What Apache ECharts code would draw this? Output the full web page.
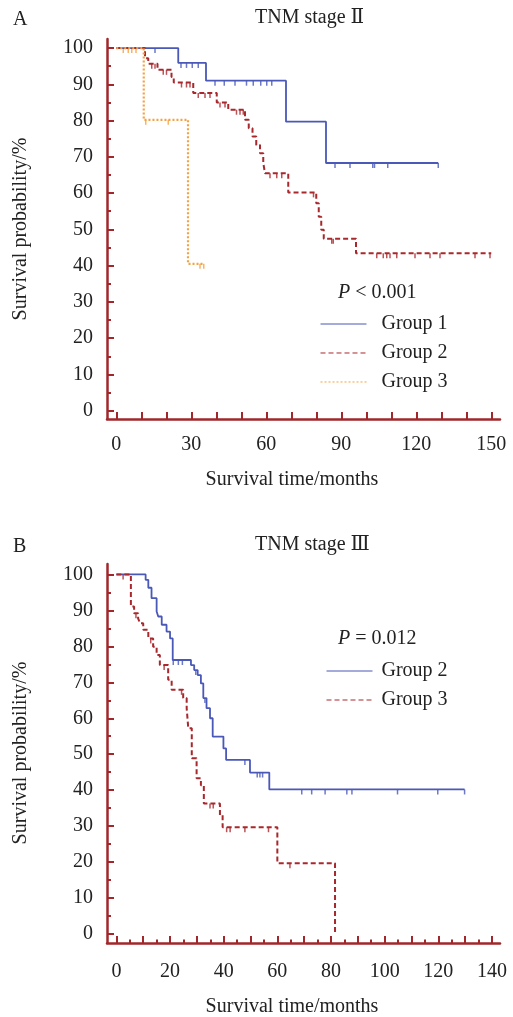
<!DOCTYPE html>
<html><head><meta charset="utf-8">
<script src="https://cdn.jsdelivr.net/npm/echarts@6/dist/echarts.min.js"></script>
<style>html,body{margin:0;padding:0;background:#fff}#c{width:513px;height:1017px}</style>
</head><body><div id="c"></div>
<script>
// ---------- Data ----------
// Panel A: TNM stage II  (time in months, survival in %)
const aGroup1Steps = [[0,100],[24.8,95.9],[35.9,91.0],[67.9,79.7],[83.9,68.3],[128.8,68.3]];
const aGroup1Censor = [15.5,25.9,28.1,30.4,32.8,39.5,43.2,47.5,52.1,54.8,57.8,60.2,62.2,87.5,93.5,102.6,103.3,108.6,128.8];
const aGroup2Steps = [[0,100],[11.5,97.2],[12.8,95.7],[16.5,94.0],[22.1,92.0],[23.0,90.5],[30.8,87.6],[40.2,85.0],[44.8,83.0],[51.5,80.2],[53.0,77.9],[54.5,75.6],[56.0,73.3],[57.5,71.0],[58.8,68.3],[59.5,65.5],[68.8,60.2],[80.0,57.2],[81.0,53.5],[82.0,49.9],[83.0,47.4],[95.9,43.4],[150,43.4]];
const aGroup2Censor = [14.2,15.5,18.8,20.1,26.1,28.1,29.5,32.8,35.5,37.5,41.5,43.5,48.1,49.5,50.8,61.5,64.2,66.2,78.9,86.2,86.8,104.2,106.8,108.2,109.5,112.2,119.5,125.5,129.5,143.5,149.5];
const aGroup3Steps = [[0,100],[11.0,80.2],[28.7,40.5],[35.0,40.5]];
const aGroup3Censor = [2.8,4.8,6.2,7.9,11.8,20.8,33.5,35.0];

// Panel B: TNM stage III
const bGroup2Steps = [[0,100],[10.9,98.5],[11.9,96.3],[13.1,93.4],[15.0,89.7],[15.6,88.3],[16.9,86.0],[18.7,84.1],[20.0,82.2],[21.0,76.2],[27.8,74.8],[29.0,73.4],[30.3,72.0],[31.5,69.7],[32.4,65.6],[33.6,62.8],[34.9,60.0],[35.9,54.9],[39.9,51.6],[40.9,48.4],[49.8,44.9],[57.0,40.2],[129.8,40.2]];
const bGroup2Censor = [21.2,23.1,24.6,29.6,33.0,47.9,52.5,53.5,54.5,69.1,72.8,77.8,85.9,87.8,104.8,119.8,129.8];
const bGroup3Steps = [[0,100],[5.4,91.1],[6.6,89.2],[8.1,87.8],[8.8,86.4],[10.0,84.6],[11.9,82.2],[13.7,79.9],[15.0,77.6],[16.2,74.8],[19.3,70.7],[20.6,67.9],[24.9,65.6],[26.2,62.8],[26.8,57.2],[28.1,48.9],[29.9,43.3],[31.5,41.4],[32.6,36.3],[38.6,33.1],[39.6,29.7],[60.0,19.7],[81.5,0]];
const bGroup3Censor = [2.5,7.3,12.8,17.8,24.3,34.9,36.1,41.1,42.4,47.9,56.7,64.7];

// Tick values / labels
const yMajorTicks = [0,10,20,30,40,50,60,70,80,90,100];
const yMinorTicks = [5,15,25,35,45,55,65,75,85,95];
const aXTicks = [0,10,20,30,40,50,60,70,80,90,100,110,120,130,140,150];
const aXLabels = [0,30,60,90,120,150];
const bXTicks = [0,10,20,30,40,50,60,70,80,90,100,110,120,130,140];
const bXMinorTicks = [5,15,25,35,45,55,65,75,85,95,105,115,125,135];
const bXLabels = [0,20,40,60,80,100,120,140];

const titleA = 'TNM stage Ⅱ', titleB = 'TNM stage Ⅲ';
const pA = ['P', ' < 0.001'], pB = ['P', ' = 0.012'];
const xName = 'Survival time/months', yName = 'Survival probability/%';

// ---------- Styling ----------
const FONT = "'Liberation Serif','DejaVu Serif','Noto Sans CJK SC',serif";
const AX = '#a0282c';
const BLUE = '#4a58b8', RED = '#a8282d', ORANGE = '#f4a140';
const TXT = '#222';

function stepAt(steps, t) {
  let v = steps[0][1];
  for (const [x, y] of steps) { if (x <= t) v = y; else break; }
  return v;
}
function censorData(steps, times) { return times.map(t => [t, stepAt(steps, t)]); }

function mainX(grid, min, max, ticks, labels, margin) {
  return {
    type: 'value', gridIndex: grid, min, max, position: 'bottom',
    axisLine: { show: true, onZero: false, lineStyle: { color: AX, width: 2.5 } },
    axisTick: { show: true, inside: true, length: 7, customValues: ticks, lineStyle: { color: AX, width: 2 } },
    axisLabel: { show: true, customValues: labels, margin, fontFamily: FONT, fontSize: 20, color: TXT },
    splitLine: { show: false }
  };
}
function minorX(grid, min, max, ticks) {
  return {
    type: 'value', gridIndex: grid, min, max, position: 'bottom', offset: 0,
    axisLine: { show: false, onZero: false },
    axisTick: { show: true, inside: true, length: 3.5, customValues: ticks, lineStyle: { color: AX, width: 2 } },
    axisLabel: { show: false }, splitLine: { show: false }
  };
}
function mainY(grid, min, max) {
  return {
    type: 'value', gridIndex: grid, min, max, position: 'left',
    axisLine: { show: true, onZero: false, lineStyle: { color: AX, width: 2.5 } },
    axisTick: { show: true, inside: true, length: 7, customValues: yMajorTicks, lineStyle: { color: AX, width: 2 } },
    axisLabel: { show: true, customValues: yMajorTicks, margin: 14, fontFamily: FONT, fontSize: 20, color: TXT },
    splitLine: { show: false }
  };
}
function minorY(grid, min, max) {
  return {
    type: 'value', gridIndex: grid, min, max, position: 'left', offset: 0,
    axisLine: { show: false, onZero: false },
    axisTick: { show: true, inside: true, length: 4, customValues: yMinorTicks, lineStyle: { color: AX, width: 2 } },
    axisLabel: { show: false }, splitLine: { show: false }
  };
}
function kmLine(name, steps, xi, yi, color, width, type) {
  return {
    name, type: 'line', step: 'end', data: steps, xAxisIndex: xi, yAxisIndex: yi,
    symbol: 'none', showSymbol: false, silent: true,
    lineStyle: { color, width, type, cap: 'butt' }, itemStyle: { color }
  };
}
function censor(name, steps, times, xi, yi, color) {
  return {
    name, type: 'scatter', data: censorData(steps, times), xAxisIndex: xi, yAxisIndex: yi,
    symbol: 'rect', symbolSize: [1.5, 5], symbolOffset: [0, 2.5], silent: true,
    itemStyle: { color }
  };
}
function legendCfg(names, left, top, pad) {
  return {
    data: names, orient: 'vertical', left, top, itemWidth: 46, itemHeight: 14, itemGap: 9,
    selectedMode: false, formatter: n => n.split('|')[1],
    itemStyle: { opacity: 0 },
    lineStyle: { width: 1 },
    textStyle: { fontFamily: FONT, fontSize: 20, color: TXT, padding: [0, 0, 0, pad] }
  };
}
function txt(x, y, text, extra) {
  return Object.assign({ type: 'text', x, y, style: { text, font: '20px ' + FONT, fill: TXT, textAlign: 'left', textVerticalAlign: 'middle' } }, extra || {});
}
function pText(x, y, parts) {
  return {
    type: 'text', x, y,
    style: {
      text: '{i|' + parts[0] + '}{n|' + parts[1] + '}',
      textVerticalAlign: 'middle', textAlign: 'left',
      rich: {
        i: { fontFamily: FONT, fontSize: 20, fontStyle: 'italic', fill: TXT, color: TXT },
        n: { fontFamily: FONT, fontSize: 20, fill: TXT, color: TXT }
      }
    }
  };
}

const chart = echarts.init(document.getElementById('c'), null, { renderer: 'canvas' });
chart.setOption({
  animation: false,
  backgroundColor: '#fff',
  grid: [
    { left: 107, top: 39, width: 393, height: 380 },
    { left: 107, top: 564, width: 393, height: 379 }
  ],
  xAxis: [
    mainX(0, -3.7, 153.5, aXTicks, aXLabels, 16),
    mainX(1, -3.5, 143, bXTicks, bXLabels, 19),
    minorX(1, -3.5, 143, bXMinorTicks)
  ],
  yAxis: [
    mainY(0, -2.3, 102.5), minorY(0, -2.3, 102.5),
    mainY(1, -2.5, 102.9), minorY(1, -2.5, 102.9)
  ],
  legend: [
    legendCfg(['A|Group 1', 'A|Group 2', 'A|Group 3'], 315, 309, 10),
    legendCfg(['B|Group 2', 'B|Group 3'], 321, 656, 4)
  ],
  series: [
    kmLine('A|Group 1', aGroup1Steps, 0, 0, BLUE, 1.8, 'solid'),
    kmLine('A|Group 2', aGroup2Steps, 0, 0, RED, 2, [5, 3]),
    kmLine('A|Group 3', aGroup3Steps, 0, 0, ORANGE, 2.2, [2, 2]),
    censor('A|Group 1 censored', aGroup1Steps, aGroup1Censor, 0, 0, BLUE),
    censor('A|Group 2 censored', aGroup2Steps, aGroup2Censor, 0, 0, RED),
    censor('A|Group 3 censored', aGroup3Steps, aGroup3Censor, 0, 0, ORANGE),
    kmLine('B|Group 2', bGroup2Steps, 1, 2, BLUE, 1.8, 'solid'),
    kmLine('B|Group 3', bGroup3Steps, 1, 2, RED, 2, [5, 3]),
    censor('B|Group 2 censored', bGroup2Steps, bGroup2Censor, 1, 2, BLUE),
    censor('B|Group 3 censored', bGroup3Steps, bGroup3Censor, 1, 2, RED)
  ],
  graphic: [
    txt(13, 20, 'A'),
    txt(255, 18, titleA),
    pText(338, 293, pA),
    txt(292, 480, xName, { style: { text: xName, font: '20px ' + FONT, fill: TXT, textAlign: 'center', textVerticalAlign: 'middle' } }),
    txt(21, 229, yName, { rotation: Math.PI / 2, style: { text: yName, font: '20px ' + FONT, fill: TXT, textAlign: 'center', textVerticalAlign: 'middle' } }),
    txt(13, 547, 'B'),
    txt(255, 545, titleB),
    pText(338, 639, pB),
    txt(292, 1007, xName, { style: { text: xName, font: '20px ' + FONT, fill: TXT, textAlign: 'center', textVerticalAlign: 'middle' } }),
    txt(21, 753, yName, { rotation: Math.PI / 2, style: { text: yName, font: '20px ' + FONT, fill: TXT, textAlign: 'center', textVerticalAlign: 'middle' } })
  ]
});
</script>
</body></html>
